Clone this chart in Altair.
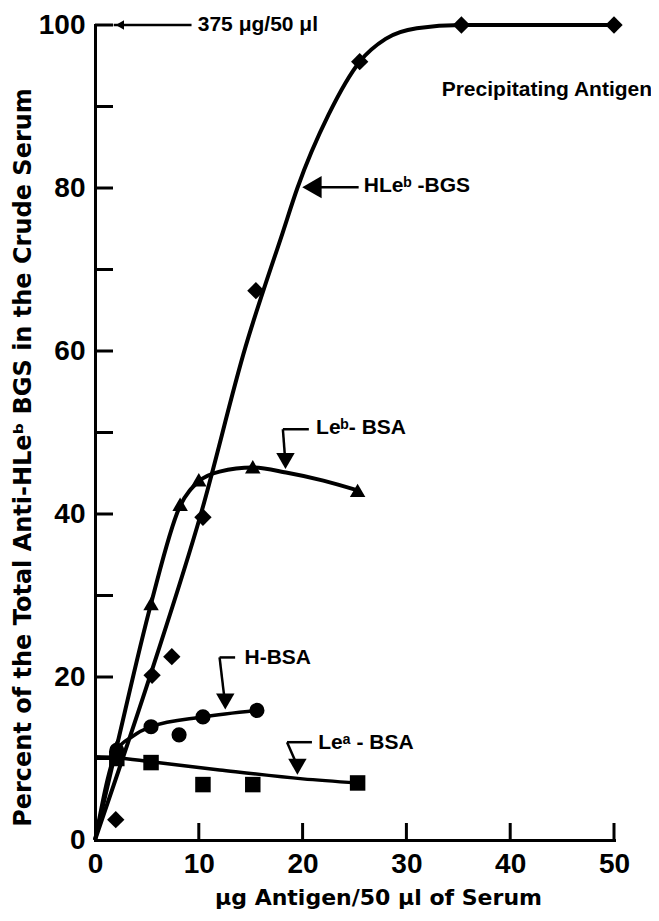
import altair as alt
import pandas as pd

# ---------------- data ----------------
hleb_x = [2.0, 5.5, 7.4, 10.4, 15.5, 25.5, 35.3, 50.0]
hleb_y = [2.5, 20.2, 22.5, 39.6, 67.4, 95.5, 100.0, 100.0]
leb_x = [2.1, 5.4, 8.2, 10.0, 15.2, 25.3]
leb_y = [11.5, 29.0, 41.2, 44.2, 45.8, 42.9]
hbsa_x = [2.1, 5.4, 8.1, 10.4, 15.6]
hbsa_y = [11.0, 13.9, 12.9, 15.1, 15.9]
lea_x = [2.1, 5.4, 10.4, 15.2, 25.3]
lea_y = [10.0, 9.5, 6.8, 6.8, 7.0]

# drawn (fitted) curves
hleb_curve_x = [0, 5.4, 10.2, 14.5, 18.1, 19.5, 22.5, 25.5, 28.0, 31.0, 35.3, 50.0]
hleb_curve_y = [0, 20.5, 40.0, 60.5, 74.6, 80.0, 89.0, 95.5, 98.3, 99.6, 100.0, 100.0]
leb_curve_x = [0, 2.1, 5.4, 8.2, 10.0, 12.0, 15.2, 18.4, 22.0, 25.3]
leb_curve_y = [0, 11.5, 29.0, 41.0, 44.0, 45.2, 45.7, 45.1, 44.1, 42.9]
hbsa_curve_x = [0, 2.1, 3.6, 5.4, 10.4, 15.6]
hbsa_curve_y = [0, 11.0, 12.7, 13.9, 15.1, 15.9]
lea_curve_x = [0, 2.1, 5.4, 12.0, 20.0, 25.3]
lea_curve_y = [10.2, 10.1, 9.6, 8.6, 7.5, 7.0]

# annotation texts
label_text = ["375 μg/50 μl", "Precipitating Antigen", "HLeᵇ -BGS", "Leᵇ- BSA", "H-BSA", "Leᵃ - BSA"]
label_x = [9.9, 33.4, 25.9, 21.3, 14.4, 21.5]
label_y = [100.0, 92.0, 80.3, 50.5, 22.3, 11.9]

# arrow shafts (start -> end)
seg_x = [1.8, 20.7, 18.1, 18.1, 12.0, 12.0, 18.5, 18.5]
seg_y = [100.0, 80.1, 50.4, 50.4, 22.4, 22.4, 12.0, 12.0]
seg_x2 = [9.3, 25.4, 20.6, 18.3, 13.5, 12.45, 20.9, 19.4]
seg_y2 = [100.0, 80.1, 50.4, 47.0, 22.4, 17.6, 12.0, 9.4]

# arrow heads
small_head_x = [2.4]
small_head_y = [100.0]
big_head_x = [20.9]
big_head_y = [80.1]
down_head_x = [18.35, 12.55, 19.5]
down_head_y = [46.5, 17.0, 9.0]

# axis ticks / labels
x_labels = [0, 10, 20, 30, 40, 50]
y_labels = [0, 20, 40, 60, 80, 100]
x_ticks = [10, 20, 30, 40, 50]
y_ticks = [10, 20, 30, 40, 50, 60, 70, 80, 90, 100]

# ---------------- chart ----------------
W, H = 519, 815
FONT = "Liberation Sans"
TFONT = "DejaVu Sans"

xs = alt.Scale(domain=[0, 50], nice=False, zero=False)
ys = alt.Scale(domain=[0, 100], nice=False, zero=False)
xaxis = alt.Axis(values=x_labels, ticks=False, grid=False, domain=True, domainWidth=3,
                 domainColor="black", domainCap="square", labelFont=FONT, labelFontSize=28,
                 labelFontWeight="bold", labelColor="black", labelPadding=10, labelFlush=False,
                 labelOverlap=False, title="μg Antigen/50 μl of Serum", titleFont=TFONT,
                 titleFontSize=22, titleFontWeight="bold", titleColor="black", titlePadding=9,
                 titleX=283)
yaxis = alt.Axis(values=y_labels, ticks=False, grid=False, domain=True, domainWidth=3,
                 domainColor="black", domainCap="square", labelFont=FONT, labelFontSize=28,
                 labelFontWeight="bold", labelColor="black", labelPadding=10, labelFlush=False,
                 labelOverlap=False, title="Percent of the Total Anti-HLeᵇ BGS in the Crude Serum",
                 titleFont=TFONT, titleFontSize=24, titleFontWeight="bold", titleColor="black",
                 titlePadding=3, titleY=432)


def X(f):
    return alt.X(f"{f}:Q", scale=xs, axis=xaxis)


def Y(f):
    return alt.Y(f"{f}:Q", scale=ys, axis=yaxis)


def curve(xv, yv, width):
    return alt.Chart(pd.DataFrame({"x": xv, "y": yv})).mark_line(
        interpolate="monotone", color="black", strokeWidth=width).encode(x=X("x"), y=Y("y"))


def points(xv, yv, shape, size):
    return alt.Chart(pd.DataFrame({"x": xv, "y": yv})).mark_point(
        filled=True, color="black", opacity=1, shape=shape, size=size).encode(x=X("x"), y=Y("y"))


layers = [
    curve(hleb_curve_x, hleb_curve_y, 4),
    curve(leb_curve_x, leb_curve_y, 4),
    curve(hbsa_curve_x, hbsa_curve_y, 3.5),
    curve(lea_curve_x, lea_curve_y, 3.5),
    alt.Chart(pd.DataFrame({"x": seg_x, "y": seg_y, "x2": seg_x2, "y2": seg_y2})).mark_rule(
        color="black", strokeWidth=2.5).encode(x=X("x"), y=Y("y"), x2="x2:Q", y2="y2:Q"),
    points(small_head_x, small_head_y, "triangle-left", 90),
    points(big_head_x, big_head_y, "triangle-left", 500),
    points(down_head_x, down_head_y, "triangle-down", 340),
    points(hleb_x, hleb_y, "diamond", 300),
    points(leb_x, leb_y, "triangle-up", 240),
    points(hbsa_x, hbsa_y, "circle", 230),
    points(lea_x, lea_y, "square", 240),
    alt.Chart(pd.DataFrame({"x": label_x, "y": label_y, "t": label_text})).mark_text(
        align="left", baseline="middle", font=FONT, fontSize=21, fontWeight="bold",
        color="black").encode(x=X("x"), y=Y("y"), text="t:N"),
    alt.Chart(pd.DataFrame({"x": x_ticks})).mark_rule(color="black", strokeWidth=3).encode(
        x=X("x"), y=alt.value(H), y2=alt.value(H - 17)),
    alt.Chart(pd.DataFrame({"y": y_ticks})).mark_rule(color="black", strokeWidth=3).encode(
        y=Y("y"), x=alt.value(0), x2=alt.value(18)),
]

chart = alt.layer(*layers).properties(
    width=W, height=H,
    autosize=alt.AutoSizeParams(type="none"),
    padding={"left": 87, "top": 17, "right": 37, "bottom": 72},
    background="white",
).configure_view(stroke=None)

chart.save("out.html", embed_options={"renderer": "svg", "actions": False})
